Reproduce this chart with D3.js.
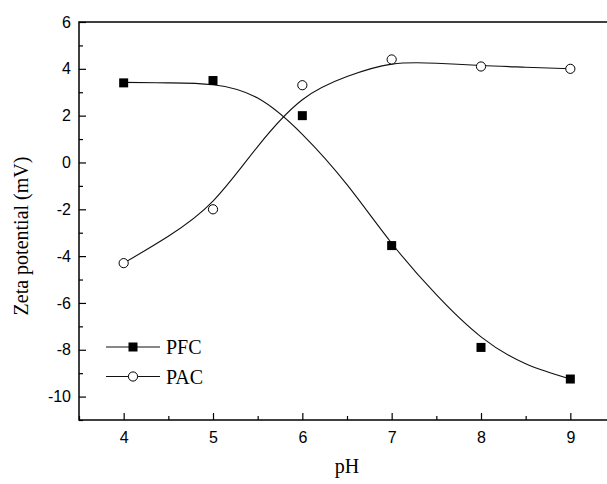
<!DOCTYPE html>
<html>
<head>
<meta charset="utf-8">
<script src="https://cdn.jsdelivr.net/npm/d3@7"></script>
<style>
  body { margin: 0; background: #fff; }
  svg { display: block; }
  .tick text { font-family: "Liberation Sans", Arial, sans-serif; font-size: 16px; fill: #000; }
  .axis-title { font-family: "Liberation Serif", "Times New Roman", serif; font-size: 20px; fill: #000; }
</style>
</head>
<body>
<div id="chart"></div>
<script>
// measured points
const phValues = [4, 5, 6, 7, 8, 9];
const pfcValues = [3.4, 3.5, 2.0, -3.55, -7.9, -9.25];
const pacValues = [-4.3, -2.0, 3.3, 4.4, 4.1, 4.0];

// fitted curves, every half unit
const fitPh = [4, 4.5, 5, 5.5, 6, 6.5, 7, 7.5, 8, 8.5, 9];
const pfcFit = [3.42, 3.4, 3.32, 2.75, 1.2, -0.95, -3.45, -5.65, -7.45, -8.6, -9.25];
const pacFit = [-4.3, -3.15, -1.65, 0.68, 2.68, 3.67, 4.2, 4.24, 4.14, 4.07, 4.0];

const xTicks = [4, 5, 6, 7, 8, 9];
const xMinor = [3.5, 4.5, 5.5, 6.5, 7.5, 8.5, 9.5];
const yTicks = [-10, -8, -6, -4, -2, 0, 2, 4, 6];
const yMinor = [-11, -9, -7, -5, -3, -1, 1, 3, 5];

const width = 607, height = 484;
const margin = { left: 79, right: 615, top: 22, bottom: 420 };

const svg = d3.select("#chart").append("svg")
    .attr("width", width)
    .attr("height", height);

const x = d3.scaleLinear().domain([3.5, 9.5]).range([margin.left, margin.right]);
const y = d3.scaleLinear().domain([-11, 6]).range([margin.bottom, margin.top]);

// minor ticks (inward, no labels)
svg.append("g")
    .attr("transform", `translate(0,${margin.bottom})`)
    .call(d3.axisBottom(x).tickValues(xMinor).tickSize(-4).tickSizeOuter(0).tickFormat(""))
    .call(g => g.select(".domain").remove());
svg.append("g")
    .attr("transform", `translate(${margin.left},0)`)
    .call(d3.axisLeft(y).tickValues(yMinor).tickSize(-4).tickSizeOuter(0).tickFormat(""))
    .call(g => g.select(".domain").remove());

// major ticks
svg.append("g")
    .attr("transform", `translate(0,${margin.bottom})`)
    .call(d3.axisBottom(x).tickValues(xTicks).tickSize(-7).tickSizeOuter(0).tickPadding(12).tickFormat(d3.format("d")))
    .call(g => g.select(".domain").remove());
svg.append("g")
    .attr("transform", `translate(${margin.left},0)`)
    .call(d3.axisLeft(y).tickValues(yTicks).tickSize(-7).tickSizeOuter(0).tickPadding(8).tickFormat(d => String(d)))
    .call(g => g.select(".domain").remove());

svg.selectAll(".tick line").attr("stroke", "#000").attr("stroke-width", 1.2);

// frame
svg.append("rect")
    .attr("x", margin.left).attr("y", margin.top)
    .attr("width", margin.right - margin.left).attr("height", margin.bottom - margin.top)
    .attr("fill", "none").attr("stroke", "#000").attr("stroke-width", 1.5);

// fitted curves
const line = d3.line()
    .x((d, i) => x(fitPh[i]))
    .y(d => y(d))
    .curve(d3.curveNatural);

svg.append("path").datum(pfcFit)
    .attr("d", line).attr("fill", "none").attr("stroke", "#111").attr("stroke-width", 1.1);
svg.append("path").datum(pacFit)
    .attr("d", line).attr("fill", "none").attr("stroke", "#111").attr("stroke-width", 1.1);

// markers
svg.selectAll(".pfc").data(pfcValues).enter().append("rect")
    .attr("class", "pfc")
    .attr("x", (d, i) => x(phValues[i]) - 4.5)
    .attr("y", d => y(d) - 4.5)
    .attr("width", 9).attr("height", 9)
    .attr("fill", "#000");

svg.selectAll(".pac").data(pacValues).enter().append("circle")
    .attr("class", "pac")
    .attr("cx", (d, i) => x(phValues[i]))
    .attr("cy", d => y(d))
    .attr("r", 4.6)
    .attr("fill", "#fff").attr("stroke", "#000").attr("stroke-width", 1);

// axis titles
svg.append("text").attr("class", "axis-title")
    .attr("x", (margin.left + margin.right) / 2).attr("y", 473)
    .attr("text-anchor", "middle")
    .text("pH");

svg.append("text").attr("class", "axis-title")
    .attr("transform", "translate(28,236) rotate(-90)")
    .attr("text-anchor", "middle")
    .text("Zeta potential (mV)");

// legend
const legend = [
    { name: "PFC", y: 347 },
    { name: "PAC", y: 376.5 }
];
const lg = svg.selectAll(".legend").data(legend).enter().append("g")
    .attr("class", "legend")
    .attr("transform", d => `translate(106,${d.y})`);
lg.append("line").attr("x1", 0).attr("x2", 54).attr("y1", 0).attr("y2", 0)
    .attr("stroke", "#111").attr("stroke-width", 1.1);
lg.filter(d => d.name === "PFC").append("rect")
    .attr("x", 27 - 4.5).attr("y", -4.5).attr("width", 9).attr("height", 9).attr("fill", "#000");
lg.filter(d => d.name === "PAC").append("circle")
    .attr("cx", 27).attr("cy", 0).attr("r", 4.6)
    .attr("fill", "#fff").attr("stroke", "#000");
lg.append("text").attr("class", "axis-title")
    .attr("x", 60).attr("y", 0).attr("dy", "0.35em")
    .text(d => d.name);
</script>
</body>
</html>
